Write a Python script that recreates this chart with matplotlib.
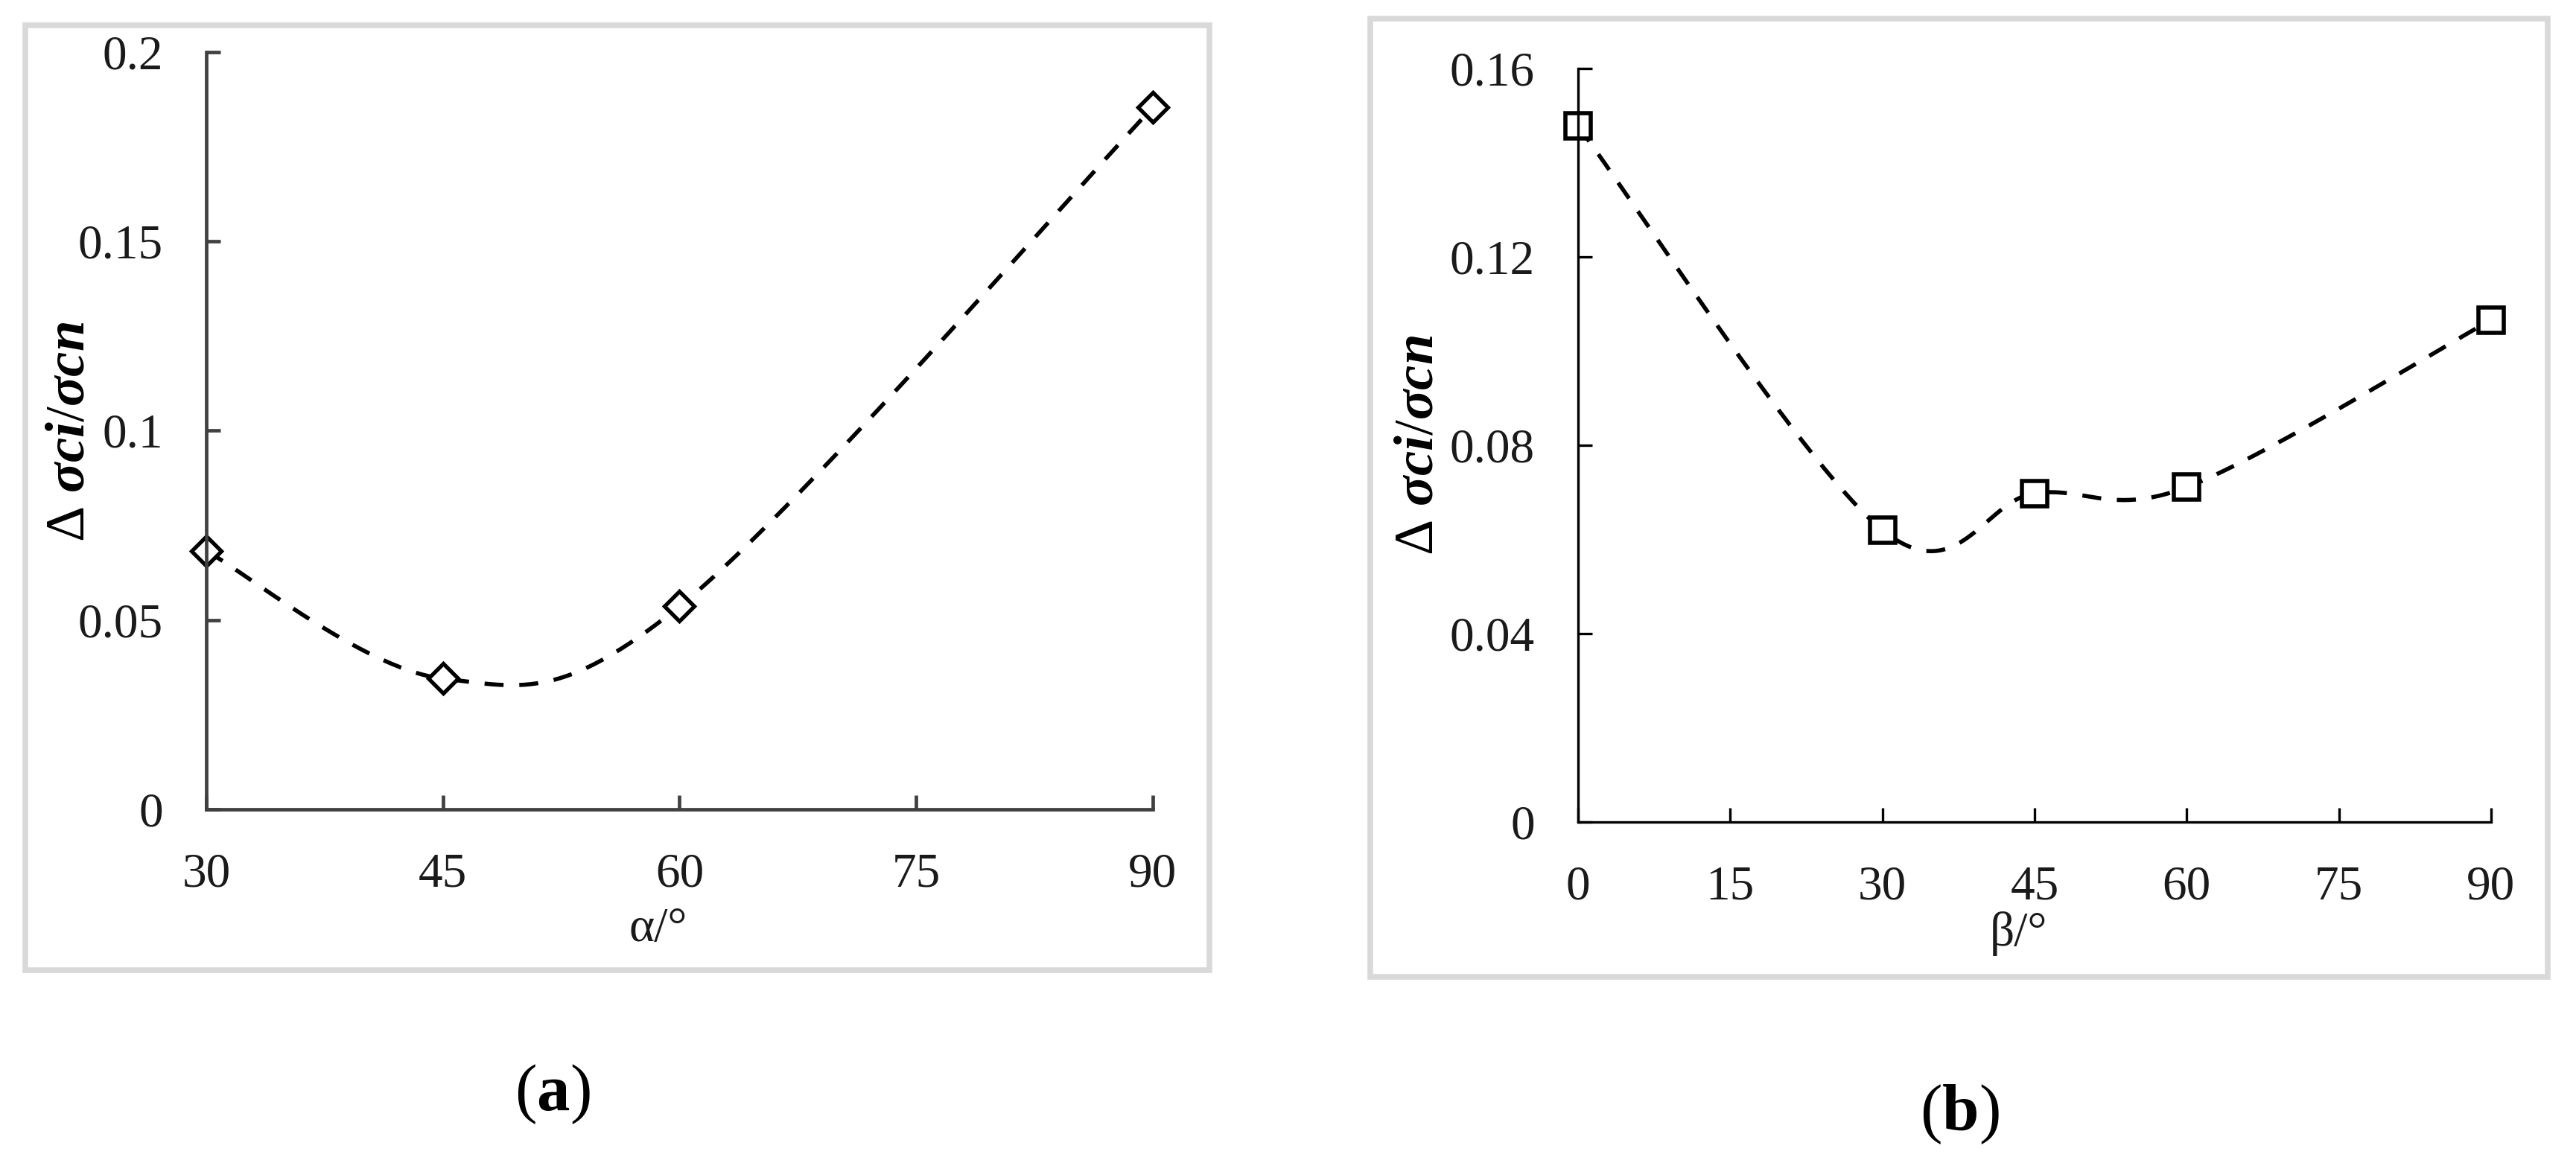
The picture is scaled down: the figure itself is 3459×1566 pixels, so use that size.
import numpy as np
import matplotlib
matplotlib.use("Agg")
from matplotlib import pyplot as plt
from matplotlib.patches import Rectangle

plt.rcParams["font.family"] = ["Liberation Serif", "DejaVu Serif"]
plt.rcParams["mathtext.fontset"] = "custom"
plt.rcParams["mathtext.rm"] = "Liberation Serif"
plt.rcParams["mathtext.it"] = "Liberation Serif:italic"
plt.rcParams["mathtext.bf"] = "Liberation Serif:bold:italic"
plt.rcParams["mathtext.sf"] = "Liberation Serif:bold"

# data
alpha = [30, 45, 60, 90]
ratio_alpha = [0.0682, 0.0345, 0.0536, 0.1853]
beta = [0, 30, 45, 60, 90]
ratio_beta = [0.1478, 0.0620, 0.0698, 0.0711, 0.1066]

alpha_ticks = [30, 45, 60, 75, 90]
alpha_yticks = [0, 0.05, 0.1, 0.15, 0.2]
alpha_ylabels = ["0", "0.05", "0.1", "0.15", "0.2"]
beta_ticks = [0, 15, 30, 45, 60, 75, 90]
beta_yticks = [0, 0.04, 0.08, 0.12, 0.16]
beta_ylabels = ["0", "0.04", "0.08", "0.12", "0.16"]

YLABEL = r"$\Delta$ $\mathbf{\sigma ci}$/$\mathbf{\sigma cn}$"


def smooth(x, y, n=60):
    """Excel-like smoothed line: cubic Bezier through the points."""
    p = np.column_stack([x, y]).astype(float)
    ext = np.vstack([p[0], p, p[-1]])
    t = np.linspace(0, 1, n)[:, None]
    out = []
    for i in range(len(p) - 1):
        p0, p3 = ext[i + 1], ext[i + 2]
        c1 = p0 + (ext[i + 2] - ext[i]) / 6
        c2 = p3 - (ext[i + 3] - ext[i + 1]) / 6
        seg = ((1 - t) ** 3) * p0 + 3 * ((1 - t) ** 2) * t * c1 + 3 * (1 - t) * t ** 2 * c2 + t ** 3 * p3
        out.append(seg if i == 0 else seg[1:])
    out = np.vstack(out)
    return out[:, 0], out[:, 1]


def style_axes(ax, spine_color, spine_lw):
    for s in ["top", "right"]:
        ax.spines[s].set_visible(False)
    for s in ["left", "bottom"]:
        ax.spines[s].set_color(spine_color)
        ax.spines[s].set_linewidth(spine_lw)
    ax.tick_params(direction="in", length=14, width=spine_lw, color=spine_color,
                   labelsize=47, pad=42, labelcolor="#1a1a1a")


fig = plt.figure(figsize=(34.59, 15.66), dpi=100)

# panel frames
fig.add_artist(Rectangle((0.0098, 0.1679), 0.4597, 0.8103, transform=fig.transFigure,
                         fill=False, edgecolor="#d9d9d9", linewidth=5.5))
fig.add_artist(Rectangle((0.5319, 0.1622), 0.4571, 0.8218, transform=fig.transFigure,
                         fill=False, edgecolor="#d9d9d9", linewidth=5.5))

# (a)
ax1 = fig.add_axes([0.0801, 0.3059, 0.3674, 0.6497])
sx, sy = smooth(alpha, ratio_alpha)
ax1.plot(sx, sy, color="black", lw=4.0, linestyle=(0, (4.6, 3.8)), clip_on=False)
ax1.plot(alpha, ratio_alpha, linestyle="none", marker="D", markersize=20,
         markerfacecolor="white", markeredgecolor="black", markeredgewidth=3.8, clip_on=False)
ax1.set_xlim(30, 90)
ax1.set_ylim(0, 0.2)
ax1.set_xticks(alpha_ticks)
ax1.set_yticks(alpha_yticks)
ax1.set_yticklabels(alpha_ylabels)
style_axes(ax1, "#404040", 3.4)

# (b)
ax2 = fig.add_axes([0.6126, 0.2950, 0.3544, 0.6462])
sx, sy = smooth(beta, ratio_beta)
ax2.plot(sx, sy, color="black", lw=4.0, linestyle=(0, (4.6, 3.8)), clip_on=False)
ax2.plot(beta, ratio_beta, linestyle="none", marker="s", markersize=25,
         markerfacecolor="white", markeredgecolor="black", markeredgewidth=4.0, clip_on=False)
ax2.set_xlim(0, 90)
ax2.set_ylim(0, 0.16)
ax2.set_xticks(beta_ticks)
ax2.set_yticks(beta_yticks)
ax2.set_yticklabels(beta_ylabels)
style_axes(ax2, "black", 2.4)

# axis labels
fig.text(0.2556, 0.2031, "α/°", fontsize=47, ha="center", va="center", color="#1a1a1a")
fig.text(0.7835, 0.1992, "β/°", fontsize=47, ha="center", va="center", color="#1a1a1a")
fig.text(0.0275, 0.6296, YLABEL, fontsize=54, rotation=90, ha="center", va="center")
fig.text(0.5510, 0.6180, YLABEL, fontsize=54, rotation=90, ha="center", va="center")

# captions
fig.text(0.2145, 0.0613, r"($\mathsf{a}$)", fontsize=64, ha="center", va="center")
fig.text(0.7606, 0.0441, r"($\mathsf{b}$)", fontsize=64, ha="center", va="center")

fig.savefig("out.png", dpi=100, facecolor="white")
